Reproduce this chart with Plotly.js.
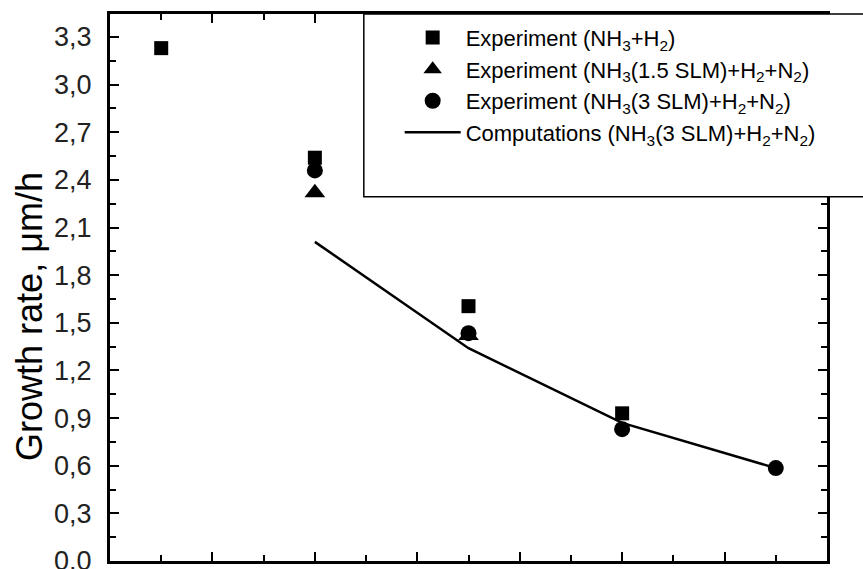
<!DOCTYPE html>
<html>
<head>
<meta charset="utf-8">
<script src="https://cdn.plot.ly/plotly-3.0.1.min.js"></script>
<style>html,body{margin:0;padding:0;background:#fff;}#chart{width:863px;height:569px;}</style>
</head>
<body>
<div id="chart"></div>
<script>
// Data (x in axis units, ticks unlabelled in the crop)
const xSquare = [0.5, 2, 3.5, 5];
const ySquare = [3.23, 2.54, 1.605, 0.93];
const xTriangle = [2, 3.5];
const yTriangle = [2.32, 1.42];
const xCircle = [2, 3.5, 5, 6.5];
const yCircle = [2.46, 1.435, 0.83, 0.585];
const xComp = [2, 3.5, 5, 6.5];
const yComp = [2.01, 1.34, 0.87, 0.585];
const seriesNames = [
  'Experiment (NH<sub>3</sub>+H<sub>2</sub>)',
  'Experiment (NH<sub>3</sub>(1.5 SLM)+H<sub>2</sub>+N<sub>2</sub>)',
  'Experiment (NH<sub>3</sub>(3 SLM)+H<sub>2</sub>+N<sub>2</sub>)',
  'Computations (NH<sub>3</sub>(3 SLM)+H<sub>2</sub>+N<sub>2</sub>)'
];
const yTickVals = [0, 0.3, 0.6, 0.9, 1.2, 1.5, 1.8, 2.1, 2.4, 2.7, 3.0, 3.3];
const yTitle = 'Growth rate, \u03bcm/h';

const traces = [
  {x: xSquare, y: ySquare, name: seriesNames[0], mode: 'markers', type: 'scatter',
   marker: {symbol: 'square', size: 14, color: '#000'}},
  {x: xTriangle, y: yTriangle, name: seriesNames[1], mode: 'markers', type: 'scatter',
   marker: {symbol: 'triangle-up', size: 18, color: '#000'}},
  {x: xCircle, y: yCircle, name: seriesNames[2], mode: 'markers', type: 'scatter',
   marker: {symbol: 'circle', size: 16, color: '#000'}},
  {x: xComp, y: yComp, name: seriesNames[3], mode: 'lines', type: 'scatter',
   line: {color: '#000', width: 2.5}}
];

const layout = {
  width: 863, height: 569,
  margin: {l: 110, r: 36, t: 14, b: 8},
  paper_bgcolor: '#fff', plot_bgcolor: '#fff',
  separators: ', ',
  font: {family: 'Liberation Sans, Arial, sans-serif', color: '#000'},
  showlegend: true,
  legend: {
    x: 0.404, y: 0.995, xanchor: 'left', yanchor: 'top',
    bgcolor: 'rgba(0,0,0,0)', borderwidth: 0,
    itemwidth: 56,
    font: {family: 'Liberation Sans, Arial, sans-serif', size: 22, color: '#000'},
    traceorder: 'normal'
  },
  xaxis: {
    range: [0, 7], showgrid: false, zeroline: false,
    showline: true, linecolor: '#000', linewidth: 3, mirror: 'ticks',
    ticks: 'inside', ticklen: 9, tickwidth: 2, tickcolor: '#000',
    dtick: 1, tick0: 0, showticklabels: false,
    minor: {ticks: 'inside', ticklen: 6, tickwidth: 2, tickcolor: '#000', dtick: 0.5}
  },
  yaxis: {
    range: [0, 3.445], showgrid: false, zeroline: false,
    showline: true, linecolor: '#000', linewidth: 3, mirror: 'ticks',
    ticks: 'inside', ticklen: 9, tickwidth: 2, tickcolor: '#000',
    tickmode: 'array', tickvals: yTickVals, tickformat: '.1f',
    ticklabelstandoff: 10, ticklabeloverflow: 'allow',
    tickfont: {family: 'Liberation Sans, Arial, sans-serif', size: 27, color: '#222'},
    minor: {ticks: 'inside', ticklen: 6, tickwidth: 2, tickcolor: '#000', dtick: 0.15, tick0: 0}
  },
  annotations: [
    {text: yTitle, xref: 'paper', yref: 'paper', x: -0.1116, y: 0.448,
     xanchor: 'center', yanchor: 'middle', textangle: -90, showarrow: false,
     font: {family: 'Liberation Sans, Arial, sans-serif', size: 36, color: '#000'}}
  ],
  shapes: [
    {type: 'rect', xref: 'paper', yref: 'paper', x0: 0.354, x1: 1.06, y0: 0.666, y1: 1,
     line: {color: '#000', width: 1.5}, fillcolor: '#fff', layer: 'above'}
  ]
};

Plotly.newPlot('chart', traces, layout, {displayModeBar: false, staticPlot: true});
</script>
</body>
</html>
